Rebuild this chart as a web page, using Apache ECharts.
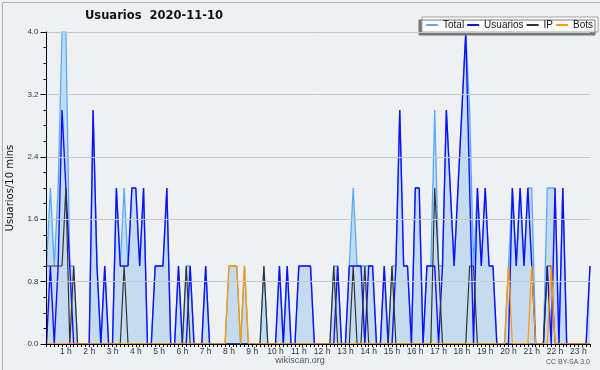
<!DOCTYPE html>
<html>
<head>
<meta charset="utf-8">
<script src="https://cdn.jsdelivr.net/npm/echarts@6/dist/echarts.min.js"></script>
<style>html,body{margin:0;padding:0;background:#eff0f1}#c{width:600px;height:370px}</style>
</head>
<body>
<div id="c"></div>
<script>
// 10-minute slots from 00:10 to 23:30 (141 points)
const startMinute = 10, stepMinutes = 10, pointCount = 141;
const categories = [];
for (let i = 0; i < pointCount; i++) {
  const m = startMinute + i * stepMinutes;
  categories.push(String(Math.floor(m / 60)).padStart(2, '0') + ':' + String(m % 60).padStart(2, '0'));
}
const yTicks = [0, 0.8, 1.6, 2.4, 3.2, 4.0];

const total = [
  1,2,1,2,4,4,1,1,0,0,
  0,0,3,1,0,1,0,0,2,1,
  2,1,2,2,1,2,0,0,1,1,
  1,2,0,0,1,0,1,1,0,0,
  0,1,0,0,0,0,0,1,1,1,
  0,1,0,0,0,0,1,0,0,0,
  1,0,1,0,0,1,1,1,1,0,
  0,0,0,0,1,1,0,0,1,2,
  1,1,1,1,1,0,0,1,0,1,
  1,3,1,1,0,2,2,0,1,1,
  3,1,1,3,2,1,2,3,4,3,
  1,2,1,2,1,1,0,0,0,1,
  2,1,2,1,2,2,0,0,0,2,
  2,2,0,2,0,0,0,0,0,0,
  1
];
const usuarios = [
  0,1,0,1,3,2,1,0,0,0,
  0,0,3,1,0,1,0,0,2,1,
  1,1,2,2,1,2,0,0,1,1,
  1,2,0,0,1,0,0,1,0,0,
  0,1,0,0,0,0,0,0,0,0,
  0,0,0,0,0,0,0,0,0,0,
  1,0,1,0,0,1,1,1,1,0,
  0,0,0,0,0,1,0,0,1,1,
  1,1,0,1,1,0,0,1,0,0,
  1,3,1,1,0,2,2,0,1,1,
  1,0,1,3,2,1,2,3,4,2,
  0,2,1,2,1,1,0,0,0,0,
  2,1,2,1,2,1,0,0,0,1,
  0,2,0,2,0,0,0,0,0,0,
  1
];
const ip = [
  1,1,1,1,1,2,0,1,0,0,
  0,0,0,0,0,0,0,0,0,0,
  1,0,0,0,0,0,0,0,0,0,
  0,0,0,0,0,0,1,0,0,0,
  0,0,0,0,0,0,0,0,0,0,
  0,0,0,0,0,0,1,0,0,0,
  0,0,0,0,0,0,0,0,0,0,
  0,0,0,0,1,0,0,0,0,1,
  0,0,1,0,0,0,0,0,0,1,
  0,0,0,0,0,0,0,0,0,0,
  2,1,0,0,0,0,0,0,0,1,
  1,0,0,0,0,0,0,0,0,0,
  0,0,0,0,0,0,0,0,0,1,
  1,0,0,0,0,0,0,0,0,0,
  0
];
const bots = [
  0,0,0,0,0,0,0,0,0,0,
  0,0,0,0,0,0,0,0,0,0,
  0,0,0,0,0,0,0,0,0,0,
  0,0,0,0,0,0,0,0,0,0,
  0,0,0,0,0,0,0,1,1,1,
  0,1,0,0,0,0,0,0,0,0,
  0,0,0,0,0,0,0,0,0,0,
  0,0,0,0,0,0,0,0,0,0,
  0,0,0,0,0,0,0,0,0,0,
  0,0,0,0,0,0,0,0,0,0,
  0,0,0,0,0,0,0,0,0,0,
  0,0,0,0,0,0,0,0,0,1,
  0,0,0,0,0,1,0,0,0,0,
  1,0,0,0,0,0,0,0,0,0,
  0
];

const chart = echarts.init(document.getElementById('c'), null, {renderer: 'canvas'});
const lineBase = {type: 'line', symbol: 'none', animation: false, smooth: false};
chart.setOption({
  backgroundColor: '#eff0f1',
  animation: false,
  title: {
    text: 'Usuarios  2020-11-10', left: 85, top: 10, padding: 0,
    textStyle: {fontFamily: 'DejaVu Sans', fontWeight: 'bold', fontSize: 11.5, color: '#111'}
  },
  legend: {
    left: 422, top: 17, padding: [3, 5, 2, 4], itemGap: 3,
    itemWidth: 12, itemHeight: 2, icon: 'rect',
    backgroundColor: '#ffffff', borderColor: '#a0a0a0', borderWidth: 1,
    shadowColor: '#777777', shadowOffsetX: -3, shadowOffsetY: 3, shadowBlur: 0,
    textStyle: {fontFamily: 'Liberation Sans', fontSize: 10, color: '#111', padding: [0, 0, 0, 0]},
    data: ['Total', 'Usuarios', 'IP', 'Bots']
  },
  grid: {left: 46.5, right: 10, top: 32, bottom: 26, containLabel: false, outerBoundsMode: 'none'},
  xAxis: {
    type: 'category', boundaryGap: false, data: categories, z: 10,
    axisLine: {lineStyle: {color: '#000', width: 1}},
    axisTick: {show: true, interval: 0, length: 3, lineStyle: {color: '#000'}},
    axisLabel: {
      interval: (idx, val) => val.endsWith(':00'),
      formatter: v => parseInt(v, 10) + ' h',
      fontFamily: 'Liberation Sans', fontSize: 8.5, color: '#333', margin: 3
    },
    splitLine: {show: false}
  },
  yAxis: {
    type: 'value', min: 0, max: 4, interval: 0.8, z: 10,
    name: 'Usuarios/10 mins', nameLocation: 'middle', nameGap: 31, nameRotate: 90,
    nameTextStyle: {fontFamily: 'DejaVu Sans', fontSize: 10, color: '#111'},
    axisLine: {show: true, lineStyle: {color: '#000'}},
    axisTick: {show: true, length: 6, lineStyle: {color: '#000'}},
    minorTick: {show: true, splitNumber: 4, length: 3, lineStyle: {color: '#000'}},
    axisLabel: {formatter: v => v.toFixed(1), fontFamily: 'Liberation Sans', fontSize: 8, color: '#333', margin: 8},
    splitLine: {show: true, lineStyle: {color: '#c8c8c8', width: 1}}
  },
  series: [
    Object.assign({}, lineBase, {name: 'Total', data: total, z: 1,
      lineStyle: {color: '#55aaff', width: 1.3}, itemStyle: {color: '#55aaff'},
      areaStyle: {color: '#c5dcf0', opacity: 1}}),
    Object.assign({}, lineBase, {name: 'Usuarios', data: usuarios, z: 2,
      lineStyle: {color: '#1010ff', width: 1.4}, itemStyle: {color: '#1010ff'}}),
    Object.assign({}, lineBase, {name: 'IP', data: ip, z: 3,
      lineStyle: {color: '#333333', width: 1.2}, itemStyle: {color: '#333333'}}),
    Object.assign({}, lineBase, {name: 'Bots', data: bots, z: 4,
      lineStyle: {color: '#ff9900', width: 1.3}, itemStyle: {color: '#ff9900'}})
  ],
  graphic: [
    {type: 'rect', left: 0, top: 0, shape: {x: 0.5, y: 0.5, width: 599, height: 369},
     style: {fill: 'none', stroke: '#b0b0b0', lineWidth: 1}, silent: true, z: -1},
    {type: 'text', left: 'center', top: 356,
     style: {text: 'wikiscan.org', fontFamily: 'Liberation Sans', fontSize: 9, fill: '#555'}},
    {type: 'text', right: 10, top: 359,
     style: {text: 'CC BY-SA 3.0', fontFamily: 'Liberation Sans', fontSize: 7, fill: '#555'}}
  ]
});
</script>
</body>
</html>
